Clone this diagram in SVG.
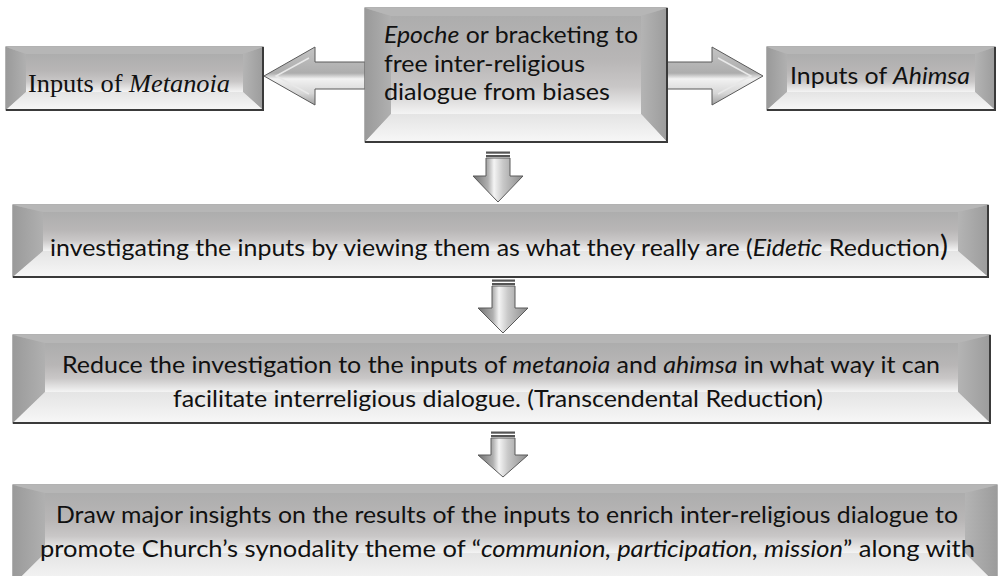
<svg xmlns="http://www.w3.org/2000/svg" width="998" height="576" viewBox="0 0 998 576">
<defs>
<linearGradient id="gMain" x1="0" y1="0" x2="0" y2="1">
<stop offset="0" stop-color="#adadad"/><stop offset="0.45" stop-color="#b8b6b6"/><stop offset="0.72" stop-color="#c9c7c7"/><stop offset="1" stop-color="#f4f4f4"/>
</linearGradient>
<linearGradient id="gLeft" x1="0" y1="0" x2="1" y2="0">
<stop offset="0" stop-color="#9a9a9a"/><stop offset="1" stop-color="#b0b0b0"/>
</linearGradient>
<linearGradient id="gRight" x1="0" y1="0" x2="1" y2="0">
<stop offset="0" stop-color="#b4b4b4"/><stop offset="1" stop-color="#9c9c9c"/>
</linearGradient>
<linearGradient id="gBottom" x1="0" y1="0" x2="0" y2="1">
<stop offset="0" stop-color="#e4e4e4"/><stop offset="1" stop-color="#f7f7f7"/>
</linearGradient>
<linearGradient id="gHArrow" x1="0" y1="0" x2="0" y2="1">
<stop offset="0" stop-color="#c4c4c4"/><stop offset="0.45" stop-color="#adadad"/><stop offset="0.55" stop-color="#f2f2f2"/><stop offset="0.8" stop-color="#d6d6d6"/><stop offset="1" stop-color="#a0a0a0"/>
</linearGradient>
<linearGradient id="gVArrow" x1="0" y1="0" x2="1" y2="0">
<stop offset="0" stop-color="#707070"/><stop offset="0.3" stop-color="#b0b0b0"/><stop offset="0.42" stop-color="#f4f4f4"/><stop offset="0.6" stop-color="#c8c8c8"/><stop offset="1" stop-color="#8a8a8a"/>
</linearGradient>
</defs>
<style>
.outer{fill:url(#gMain);stroke:#808080;stroke-width:1.2}
.bl{fill:url(#gLeft)}
.br{fill:url(#gRight)}
.bt{fill:#b6b6b6}
.bb{fill:url(#gBottom)}
.inner{fill:url(#gMain)}
.shadow{fill:none;stroke:#3a3a3a;stroke-width:2}
.ha{fill:url(#gHArrow);stroke:#5a5a5a;stroke-width:1}
.va{fill:url(#gVArrow);stroke:#5a5a5a;stroke-width:1}
.stripe{fill:#555}
.t{font-family:Lato,"Open Sans",sans-serif;font-size:24px;fill:#111}
.serif{font-family:"Liberation Serif","Times New Roman",serif;font-size:26px;fill:#111}
</style>

<g id="connectors">
<polygon class="ha" points="365,62 315,62 315,47 264,76 315,105 315,89 365,89"/>
<polyline points="309,58 276,76 309,94" fill="none" stroke="#e8e8e8" stroke-width="1.5"/>
<polygon class="ha" points="667,62 712,62 712,47 763,76 712,105 712,89 667,89"/>
<polyline points="718,58 751,76 718,94" fill="none" stroke="#e8e8e8" stroke-width="1.5"/>

<rect class="stripe" x="486" y="151.5" width="24" height="2.2"/>
<rect class="stripe" x="486" y="155" width="24" height="2"/>
<polygon class="va" points="486,158 510,158 510,176 523,176 498,202 473,176 486,176"/>

<rect class="stripe" x="492" y="279.5" width="23" height="2.2"/>
<rect class="stripe" x="492" y="283" width="23" height="2"/>
<polygon class="va" points="492,286 515,286 515,308 528,308 503,333 478,308 492,308"/>

<rect class="stripe" x="491" y="431.5" width="24" height="2.2"/>
<rect class="stripe" x="491" y="435" width="24" height="2"/>
<polygon class="va" points="491,438 515,438 515,455 528,455 503,477 478,455 491,455"/>
</g>

<g id="node-metanoia">
<rect class="outer" x="6" y="47" width="257" height="63"/>
<polygon class="bl" points="6,47 26,54 26,92 6,110"/>
<polygon class="br" points="263,47 243,54 243,92 263,110"/>
<polygon class="bt" points="6,47 263,47 243,54 26,54"/>
<polygon class="bb" points="6,110 263,110 243,92 26,92"/>
<rect class="inner" x="26" y="54" width="217" height="38"/>
<polyline class="shadow" points="263,47 263,110 6,110"/>
<text class="serif" x="28" y="92" textLength="202" lengthAdjust="spacingAndGlyphs">Inputs of <tspan font-style="italic">Metanoia</tspan></text>
</g>

<g id="node-epoche">
<rect class="outer" x="365" y="8" width="302" height="134"/>
<polygon class="bl" points="365,8 391,16 391,114 365,142"/>
<polygon class="br" points="667,8 641,16 641,114 667,142"/>
<polygon class="bt" points="365,8 667,8 641,16 391,16"/>
<polygon class="bb" points="365,142 667,142 641,114 391,114"/>
<rect class="inner" x="391" y="16" width="250" height="98"/>
<polyline class="shadow" points="667,8 667,142 365,142"/>
<text class="t" x="384" y="43" textLength="254" lengthAdjust="spacingAndGlyphs"><tspan font-style="italic">Epoche</tspan> or bracketing to</text>
<text class="t" x="384" y="72" textLength="201" lengthAdjust="spacingAndGlyphs">free inter-religious</text>
<text class="t" x="384" y="100" textLength="226" lengthAdjust="spacingAndGlyphs">dialogue from biases</text>
</g>

<g id="node-ahimsa">
<rect class="outer" x="767" y="47" width="228" height="63"/>
<polygon class="bl" points="767,47 787,54 787,92 767,110"/>
<polygon class="br" points="995,47 975,54 975,92 995,110"/>
<polygon class="bt" points="767,47 995,47 975,54 787,54"/>
<polygon class="bb" points="767,110 995,110 975,92 787,92"/>
<rect class="inner" x="787" y="54" width="188" height="38"/>
<polyline class="shadow" points="995,47 995,110 767,110"/>
<text class="t" x="790" y="84" textLength="180" lengthAdjust="spacingAndGlyphs">Inputs of <tspan font-style="italic">Ahimsa</tspan></text>
</g>

<g id="node-eidetic">
<rect class="outer" x="13" y="205" width="975" height="72"/>
<polygon class="bl" points="13,205 43,212 43,251 13,277"/>
<polygon class="br" points="988,205 958,212 958,251 988,277"/>
<polygon class="bt" points="13,205 988,205 958,212 43,212"/>
<polygon class="bb" points="13,277 988,277 958,251 43,251"/>
<rect class="inner" x="43" y="212" width="915" height="39"/>
<polyline class="shadow" points="988,205 988,277 13,277"/>
<text class="t" x="50" y="256" textLength="898" lengthAdjust="spacingAndGlyphs">investigating the inputs by viewing them as what they really are (<tspan font-style="italic">Eidetic</tspan> Reduction<tspan font-size="29">)</tspan></text>
</g>

<g id="node-transcendental">
<rect class="outer" x="13" y="335" width="977" height="88"/>
<polygon class="bl" points="13,335 45,343 45,392 13,423"/>
<polygon class="br" points="990,335 958,343 958,392 990,423"/>
<polygon class="bt" points="13,335 990,335 958,343 45,343"/>
<polygon class="bb" points="13,423 990,423 958,392 45,392"/>
<rect class="inner" x="45" y="343" width="913" height="49"/>
<polyline class="shadow" points="990,335 990,423 13,423"/>
<text class="t" x="62" y="373" textLength="878" lengthAdjust="spacingAndGlyphs">Reduce the investigation to the inputs of <tspan font-style="italic">metanoia</tspan> and <tspan font-style="italic">ahimsa</tspan> in what way it can</text>
<text class="t" x="173" y="407" textLength="650" lengthAdjust="spacingAndGlyphs">facilitate interreligious dialogue. (Transcendental Reduction)</text>
</g>

<g id="node-insights">
<rect class="outer" x="13" y="485" width="984" height="100"/>
<polygon class="bl" points="13,485 45,493 45,553 13,585"/>
<polygon class="br" points="997,485 965,493 965,553 997,585"/>
<polygon class="bt" points="13,485 997,485 965,493 45,493"/>
<polygon class="bb" points="13,585 997,585 965,553 45,553"/>
<rect class="inner" x="45" y="493" width="920" height="60"/>
<text class="t" x="56" y="523" textLength="902" lengthAdjust="spacingAndGlyphs">Draw major insights on the results of the inputs to enrich inter-religious dialogue to</text>
<text class="t" x="40" y="557" textLength="935" lengthAdjust="spacingAndGlyphs">promote Church’s synodality theme of “<tspan font-style="italic">communion, participation, mission</tspan>” along with</text>
</g>
</svg>
